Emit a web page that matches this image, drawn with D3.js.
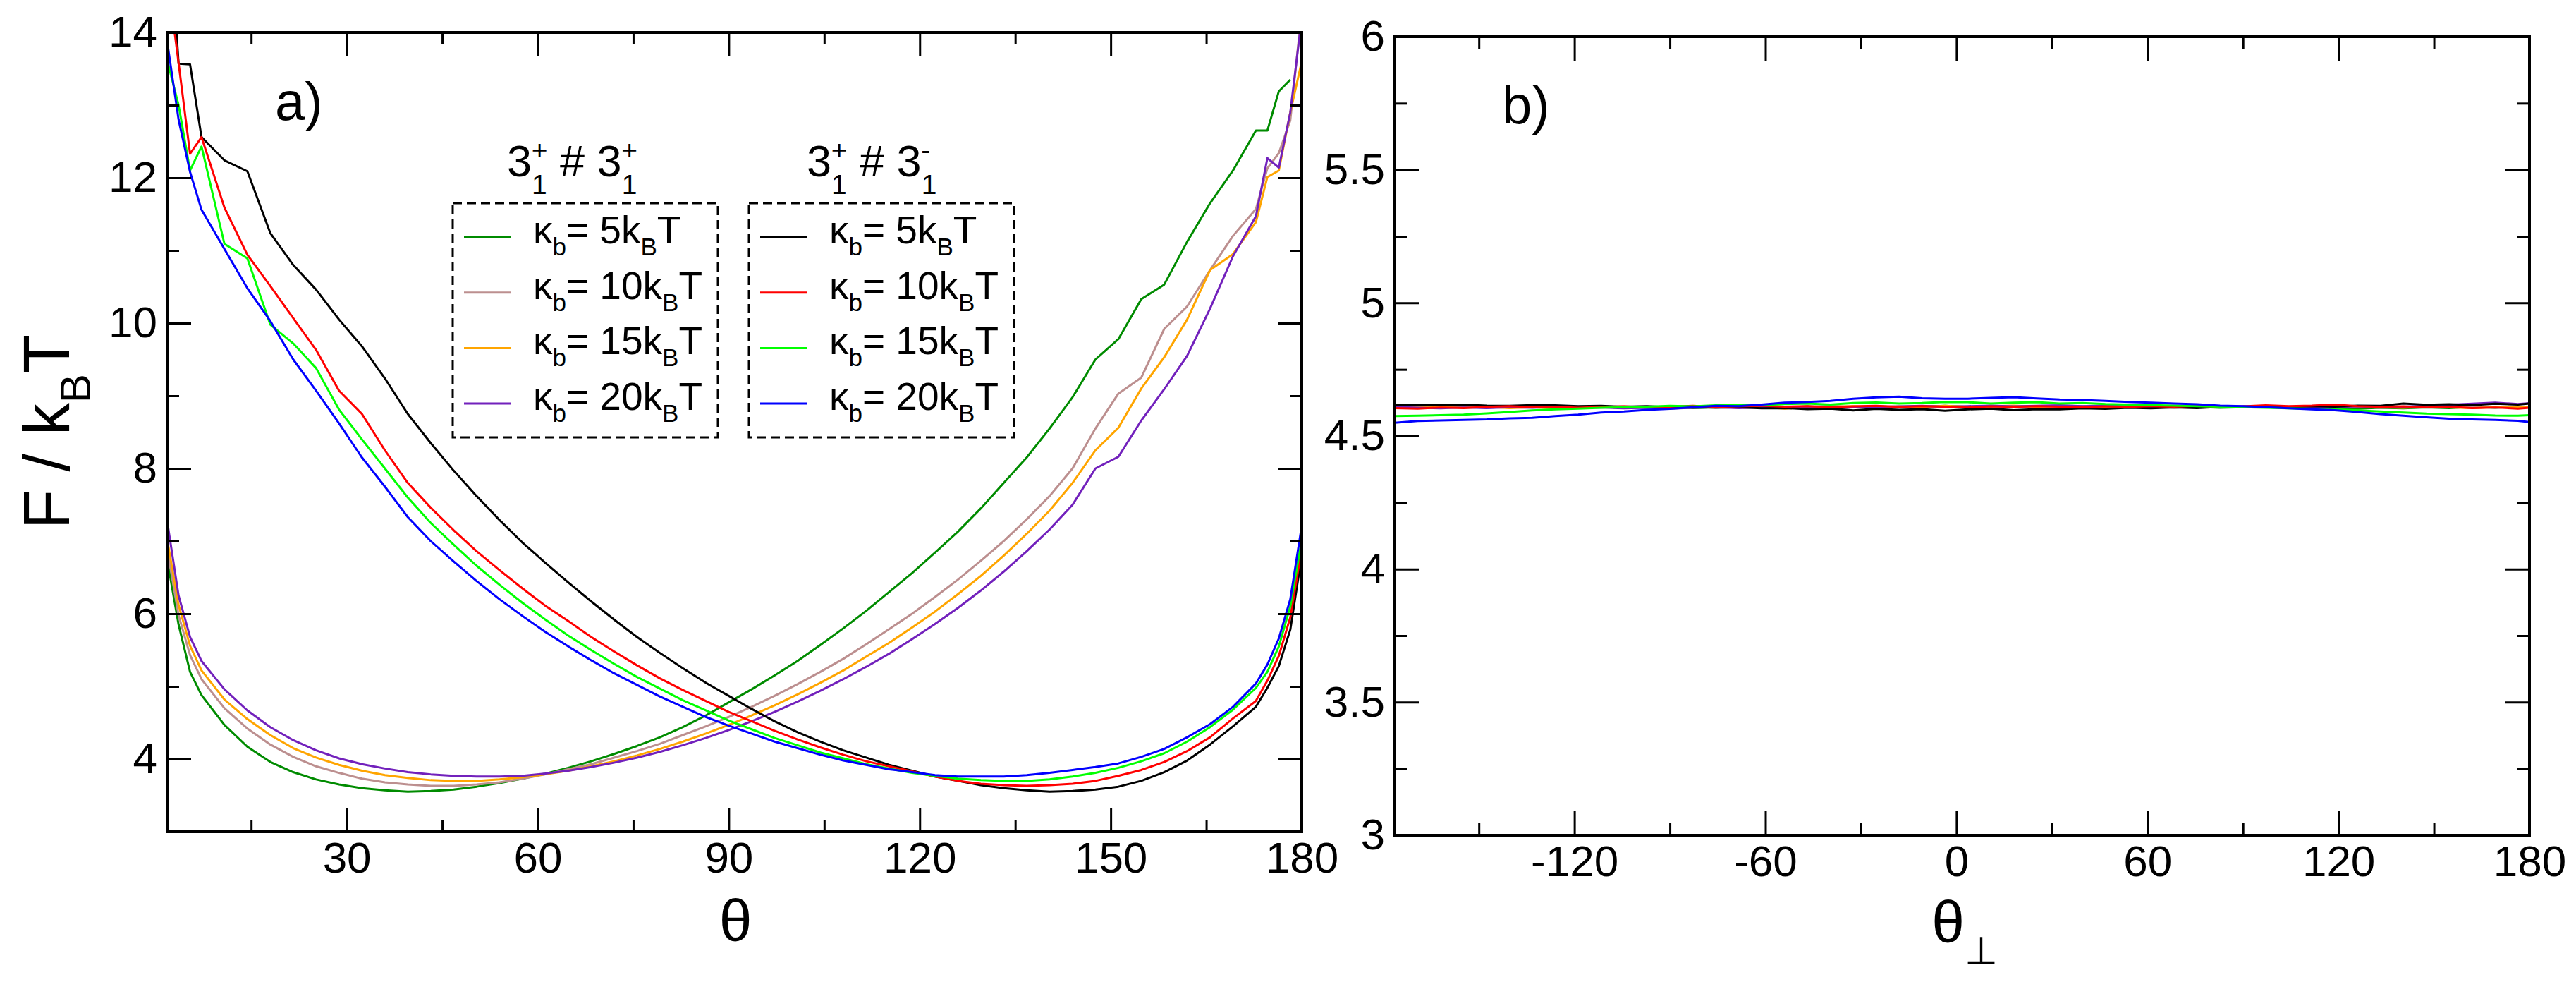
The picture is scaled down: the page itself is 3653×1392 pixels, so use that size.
<!DOCTYPE html>
<html><head><meta charset="utf-8">
<script src="https://cdn.jsdelivr.net/npm/d3@7"></script>
<style>body{margin:0;background:#fff}</style>
</head><body>
<svg id="c" width="3653" height="1392" xmlns="http://www.w3.org/2000/svg"></svg>
<script>
// ---------------- DATA ----------------
// Panel a) : theta (degrees)
const thetaA = [1.8,3.6,5.4,7.2,10.8,14.4,18,21.6,25.2,28.8,32.4,36,39.6,43.2,46.8,50.4,54,57.6,61.2,64.8,68.4,72,75.6,79.2,82.8,86.4,90,93.6,97.2,100.8,104.4,108,111.6,115.2,118.8,122.4,126,129.6,133.2,136.8,140.4,144,147.6,151.2,154.8,158.4,162,165.6,169.2,172.8,174.6,176.4,178.2,180];
// 3_1^+ # 3_1^+
const ppK5  = [6.75,5.85,5.2,4.88,4.47,4.17,3.96,3.82,3.72,3.65,3.6,3.57,3.55,3.56,3.58,3.62,3.67,3.73,3.8,3.88,3.97,4.07,4.18,4.3,4.44,4.6,4.78,4.96,5.15,5.35,5.57,5.8,6.04,6.3,6.56,6.84,7.13,7.45,7.8,8.15,8.55,8.98,9.5,9.78,10.33,10.53,11.12,11.65,12.1,12.65,12.65,13.19,13.35,null];
const ppK10 = [6.9,5.98,5.43,5.1,4.7,4.42,4.2,4.03,3.9,3.81,3.73,3.68,3.65,3.63,3.63,3.65,3.68,3.73,3.79,3.86,3.93,4.02,4.11,4.21,4.33,4.45,4.58,4.72,4.87,5.03,5.2,5.38,5.58,5.79,6.0,6.23,6.47,6.73,7.0,7.3,7.62,8.0,8.55,9.03,9.25,9.92,10.23,10.73,11.2,11.57,12.13,12.34,12.79,14.3];
const ppK15 = [7.03,6.12,5.56,5.22,4.82,4.55,4.33,4.15,4.02,3.92,3.84,3.78,3.74,3.71,3.7,3.7,3.72,3.75,3.79,3.84,3.9,3.97,4.05,4.14,4.24,4.35,4.47,4.6,4.74,4.89,5.05,5.22,5.41,5.6,5.81,6.03,6.27,6.52,6.8,7.1,7.42,7.8,8.25,8.56,9.1,9.53,10.05,10.73,10.95,11.39,12.01,12.1,12.9,13.6];
const ppK20 = [7.28,6.25,5.68,5.35,4.96,4.67,4.44,4.26,4.12,4.01,3.93,3.87,3.82,3.79,3.77,3.76,3.76,3.77,3.8,3.84,3.89,3.95,4.02,4.1,4.19,4.29,4.4,4.52,4.65,4.79,4.94,5.1,5.27,5.45,5.65,5.86,6.08,6.32,6.58,6.86,7.16,7.5,8.0,8.16,8.66,9.09,9.55,10.2,10.92,11.47,12.27,12.14,12.9,14.2];
// 3_1^+ # 3_1^-
const pmK5  = [16,13.57,13.56,12.56,12.24,12.09,11.24,10.8,10.46,10.05,9.68,9.24,8.75,8.35,7.97,7.62,7.29,6.98,6.7,6.43,6.17,5.92,5.68,5.46,5.25,5.05,4.87,4.69,4.52,4.37,4.24,4.12,4.02,3.92,3.84,3.76,3.7,3.64,3.6,3.57,3.55,3.56,3.58,3.62,3.7,3.82,3.98,4.2,4.45,4.72,4.98,5.28,5.78,6.8];
const pmK10 = [14.8,13.58,12.33,12.56,11.59,10.94,10.51,10.07,9.63,9.07,8.75,8.25,7.8,7.46,7.15,6.86,6.6,6.35,6.11,5.9,5.68,5.48,5.29,5.11,4.95,4.8,4.65,4.52,4.39,4.27,4.16,4.06,3.97,3.9,3.83,3.76,3.7,3.66,3.64,3.63,3.64,3.66,3.7,3.77,3.85,3.96,4.11,4.3,4.56,4.8,5.08,5.42,5.95,6.9];
const pmK15 = [13.62,13.0,12.1,12.43,11.09,10.89,9.98,9.72,9.38,8.81,8.4,8.0,7.6,7.25,6.95,6.66,6.4,6.15,5.92,5.7,5.5,5.31,5.13,4.97,4.81,4.67,4.53,4.41,4.29,4.19,4.09,4.01,3.93,3.87,3.81,3.77,3.73,3.71,3.7,3.7,3.72,3.76,3.81,3.88,3.97,4.08,4.24,4.44,4.68,4.98,5.2,5.55,6.1,7.02];
const pmK20 = [13.88,12.8,12.08,11.56,11.02,10.48,10.03,9.5,9.07,8.62,8.15,7.75,7.33,7.0,6.72,6.45,6.2,5.97,5.75,5.55,5.36,5.18,5.02,4.86,4.72,4.58,4.46,4.35,4.24,4.15,4.06,3.98,3.92,3.86,3.82,3.78,3.76,3.76,3.76,3.78,3.81,3.85,3.89,3.94,4.03,4.14,4.3,4.48,4.72,5.04,5.3,5.66,6.2,7.21];

// Panel b) : theta_perp (degrees)
const thetaB = [-176.4,-169.2,-162,-154.8,-147.6,-140.4,-133.2,-126,-118.8,-111.6,-104.4,-97.2,-90,-82.8,-75.6,-68.4,-61.2,-54,-46.8,-39.6,-32.4,-25.2,-18,-10.8,-3.6,3.6,10.8,18,25.2,32.4,39.6,46.8,54,61.2,68.4,75.6,82.8,90,97.2,104.4,111.6,118.8,126,133.2,140.4,147.6,154.8,162,169.2,176.4,180];
const bppK5  = [4.612,4.610,4.613,4.609,4.611,4.608,4.612,4.609,4.607,4.611, 4.608,4.606,4.609,4.605,4.607,4.610,4.606,4.608,4.611,4.607, 4.609,4.612,4.608,4.610,4.613,4.609,4.611,4.608,4.610,4.607, 4.609,4.612,4.608,4.610,4.607,4.609,4.606,4.608,4.611,4.607, 4.609,4.606,4.603,4.606,4.604,4.607,4.605,4.609,4.606,4.610, 4.608];
const bppK10 = [4.608,4.611,4.607,4.610,4.606,4.609,4.611,4.606,4.609,4.607, 4.611,4.608,4.605,4.609,4.607,4.611,4.608,4.606,4.610,4.613, 4.609,4.611,4.607,4.610,4.612,4.608,4.611,4.609,4.606,4.610, 4.612,4.608,4.611,4.609,4.606,4.610,4.612,4.608,4.611,4.609, 4.612,4.607,4.610,4.606,4.609,4.611,4.607,4.610,4.606,4.609, 4.607];
const bppK15 = [4.610,4.607,4.611,4.606,4.609,4.605,4.608,4.604,4.607,4.610, 4.606,4.609,4.605,4.608,4.610,4.606,4.609,4.603,4.607,4.610, 4.612,4.608,4.611,4.609,4.613,4.610,4.612,4.614,4.610,4.612, 4.609,4.611,4.608,4.610,4.613,4.609,4.611,4.607,4.610,4.608, 4.611,4.609,4.612,4.608,4.606,4.609,4.607,4.605,4.608,4.610, 4.609];
const bppK20 = [4.609,4.606,4.604,4.607,4.605,4.608,4.606,4.609,4.605,4.607, 4.604,4.606,4.603,4.606,4.608,4.605,4.607,4.610,4.606,4.604, 4.607,4.609,4.611,4.613,4.609,4.612,4.614,4.611,4.613,4.615, 4.612,4.614,4.611,4.609,4.612,4.610,4.608,4.611,4.609,4.607, 4.610,4.608,4.611,4.607,4.610,4.613,4.617,4.621,4.625,4.620, 4.623];
const bpmK5  = [4.617,4.615,4.616,4.618,4.614,4.613,4.616,4.615,4.612,4.613, 4.610,4.612,4.608,4.610,4.606,4.608,4.604,4.605,4.601,4.603, 4.596,4.602,4.598,4.601,4.595,4.600,4.603,4.597,4.601,4.600, 4.604,4.602,4.606,4.604,4.607,4.605,4.609,4.607,4.610,4.609, 4.612,4.610,4.614,4.613,4.622,4.617,4.619,4.616,4.621,4.618, 4.622];
const bpmK10 = [4.605,4.603,4.607,4.605,4.609,4.612,4.608,4.610,4.606,4.609, 4.611,4.607,4.610,4.613,4.609,4.611,4.614,4.610,4.612,4.608, 4.611,4.613,4.609,4.612,4.610,4.607,4.611,4.609,4.612,4.610, 4.608,4.611,4.609,4.612,4.610,4.613,4.609,4.611,4.615,4.612, 4.614,4.618,4.612,4.609,4.611,4.607,4.610,4.605,4.607,4.603, 4.606];
const bpmK15 = [4.575,4.576,4.578,4.580,4.585,4.590,4.596,4.600,4.603,4.606, 4.608,4.610,4.613,4.611,4.615,4.617,4.616,4.620,4.622,4.618, 4.624,4.626,4.622,4.624,4.628,4.627,4.622,4.625,4.627,4.622, 4.624,4.620,4.618,4.616,4.614,4.612,4.610,4.608,4.606,4.604, 4.602,4.600,4.596,4.592,4.588,4.584,4.582,4.580,4.577,4.576, 4.578];
const bpmK20 = [4.550,4.556,4.558,4.560,4.562,4.566,4.568,4.575,4.580,4.588, 4.592,4.598,4.602,4.608,4.613,4.612,4.618,4.625,4.628,4.632, 4.640,4.645,4.648,4.642,4.640,4.640,4.643,4.646,4.641,4.637, 4.635,4.632,4.628,4.625,4.622,4.619,4.614,4.612,4.608,4.604, 4.600,4.597,4.590,4.582,4.576,4.570,4.565,4.562,4.560,4.557, 4.552];

// Ticks / labels
const aXMajor = [30,60,90,120,150,180], aXMinor = [15,45,75,105,135,165];
const aYMajor = [4,6,8,10,12,14], aYMinor = [3,5,7,9,11,13];
const bXMajor = [-120,-60,0,60,120,180], bXMinor = [-150,-90,-30,30,90,150];
const bYMajor = [3,3.5,4,4.5,5,5.5,6], bYMinor = [3.25,3.75,4.25,4.75,5.25,5.75];
const kappaLabels = ["5","10","15","20"];
const legendSup = ["+","-"];

// ---------------- DRAW ----------------
const FONT = '"Liberation Sans", Arial, Helvetica, sans-serif';
const svg = d3.select("#c");
svg.append("rect").attr("width",3653).attr("height",1392).attr("fill","#fff");

const colPP = ["#008b00","#bc8f8f","#ffa500","#7221bc"];
const colPM = ["#000000","#ff0000","#00ff00","#0000ff"];

function richText(parent, x, y, parts, fs, opts) {
  opts = opts || {};
  const small = opts.small || fs*0.62;
  const subShift = opts.sub || fs*0.3;
  const supShift = opts.sup || fs*0.37;
  const t = parent.append("text").attr("x", x).attr("y", y)
    .attr("font-family", FONT).attr("font-size", fs).attr("fill","#000")
    .attr("text-anchor", opts.anchor || "start");
  if (opts.transform) t.attr("transform", opts.transform);
  let cur = 0;
  parts.forEach(p => {
    let target = p.sub ? subShift : (p.sup ? -supShift : 0);
    const ts = t.append("tspan").text(p.t).attr("font-size", (p.sub||p.sup) ? (p.fs || small) : fs);
    if (target !== cur) { ts.attr("dy", target - cur); cur = target; }
    if (p.dx) ts.attr("dx", p.dx);
  });
  return t;
}

function panel(cfg) {
  const x = d3.scaleLinear().domain(cfg.xd).range([cfg.x0, cfg.x1]);
  const y = d3.scaleLinear().domain(cfg.yd).range([cfg.y1, cfg.y0]);
  const id = "clip" + cfg.name;
  svg.append("clipPath").attr("id", id).append("rect")
    .attr("x", cfg.x0).attr("y", cfg.y0).attr("width", cfg.x1 - cfg.x0).attr("height", cfg.y1 - cfg.y0);
  const line = d3.line().defined(d => d[1] != null).x(d => x(d[0])).y(d => y(d[1]));
  const g = svg.append("g").attr("clip-path", `url(#${id})`);
  cfg.series.forEach(s => {
    g.append("path").attr("d", line(cfg.xs.map((t, i) => [t, s.v[i]])))
      .attr("fill", "none").attr("stroke", s.c).attr("stroke-width", 3).attr("stroke-linejoin", "round");
  });
  function ax(gen, sc, vals, size, fmt, tr) {
    const a = gen(sc).tickValues(vals).tickSize(-size).tickPadding(cfg.pad);
    a.tickFormat(fmt ? fmt : () => "");
    const gg = svg.append("g").attr("transform", tr).call(a);
    gg.select(".domain").remove();
    gg.selectAll("line").attr("stroke", "#000").attr("stroke-width", 3);
    gg.selectAll("text").attr("font-size", cfg.fs).attr("font-family", FONT).attr("fill", "#000");
    return gg;
  }
  const lab = d => String(d);
  ax(d3.axisBottom, x, cfg.xMajor, 34, lab, `translate(0,${cfg.y1})`);
  ax(d3.axisBottom, x, cfg.xMinor, 17, null, `translate(0,${cfg.y1})`);
  ax(d3.axisTop, x, cfg.xMajor, 34, null, `translate(0,${cfg.y0})`);
  ax(d3.axisTop, x, cfg.xMinor, 17, null, `translate(0,${cfg.y0})`);
  ax(d3.axisLeft, y, cfg.yMajor, 34, lab, `translate(${cfg.x0},0)`);
  ax(d3.axisLeft, y, cfg.yMinor, 17, null, `translate(${cfg.x0},0)`);
  ax(d3.axisRight, y, cfg.yMajor, 34, null, `translate(${cfg.x1},0)`);
  ax(d3.axisRight, y, cfg.yMinor, 17, null, `translate(${cfg.x1},0)`);
  svg.append("rect").attr("x", cfg.x0).attr("y", cfg.y0)
    .attr("width", cfg.x1 - cfg.x0).attr("height", cfg.y1 - cfg.y0)
    .attr("fill", "none").attr("stroke", "#000").attr("stroke-width", 4);
  return {x, y};
}

panel({
  name: "a", x0: 237, x1: 1846, y0: 46, y1: 1179, xd: [1.8, 180], yd: [3, 14],
  xs: thetaA, fs: 62, pad: 14,
  xMajor: aXMajor, xMinor: aXMinor, yMajor: aYMajor, yMinor: aYMinor,
  series: [
    {v: ppK5, c: colPP[0]}, {v: ppK10, c: colPP[1]}, {v: ppK15, c: colPP[2]}, {v: ppK20, c: colPP[3]},
    {v: pmK5, c: colPM[0]}, {v: pmK10, c: colPM[1]}, {v: pmK15, c: colPM[2]}, {v: pmK20, c: colPM[3]}
  ]
});
panel({
  name: "b", x0: 1978, x1: 3587, y0: 52, y1: 1184, xd: [-176.4, 180], yd: [3, 6],
  xs: thetaB, fs: 62, pad: 14,
  xMajor: bXMajor, xMinor: bXMinor, yMajor: bYMajor, yMinor: bYMinor,
  series: [
    {v: bppK5, c: colPP[0]}, {v: bppK10, c: colPP[1]}, {v: bppK15, c: colPP[2]}, {v: bppK20, c: colPP[3]},
    {v: bpmK5, c: colPM[0]}, {v: bpmK10, c: colPM[1]}, {v: bpmK15, c: colPM[2]}, {v: bpmK20, c: colPM[3]}
  ]
});

// Axis titles
richText(svg, 0, 0, [{t: "F / k"}, {t: "B", sub: true}, {t: "T"}], 92,
  {anchor: "middle", transform: "translate(98,612) rotate(-90)", small: 62, sub: 30});
svg.append("text").attr("x", 1043).attr("y", 1334).attr("text-anchor", "middle")
  .attr("font-family", FONT).attr("font-size", 84).text("θ");
richText(svg, 2786, 1336, [{t: "θ"}, {t: "⊥", sub: true}], 84, {anchor: "middle", small: 54, sub: 30});

// Panel labels
svg.append("text").attr("x", 390).attr("y", 170).attr("font-family", FONT).attr("font-size", 76).text("a)");
svg.append("text").attr("x", 2130).attr("y", 175).attr("font-family", FONT).attr("font-size", 76).text("b)");

// Legends
const legends = [
  {bx: 642, colors: colPP, sup: legendSup[0], tx: 719},
  {bx: 1062, colors: colPM, sup: legendSup[1], tx: 1144}
];
legends.forEach(L => {
  const g = svg.append("g");
  g.append("rect").attr("x", L.bx).attr("y", 288).attr("width", 376).attr("height", 332)
    .attr("fill", "#fff").attr("stroke", "#000").attr("stroke-width", 3).attr("stroke-dasharray", "13,7");
  // title 3_1^+ # 3_1^(+/-)
  richText(g, L.tx, 250, [
    {t: "3"}, {t: "1", sub: true}, {t: "+", sup: true, dx: -22},
    {t: " # 3"}, {t: "1", sub: true}, {t: L.sup, sup: true, dx: -22}
  ], 63, {small: 39, sub: 25, sup: 24});
  kappaLabels.forEach((k, i) => {
    const ly = 336 + i * 78.7;
    g.append("line").attr("x1", L.bx + 16).attr("x2", L.bx + 82).attr("y1", ly).attr("y2", ly)
      .attr("stroke", L.colors[i]).attr("stroke-width", 3);
    richText(g, L.bx + 114, ly + 9, [
      {t: "κ"}, {t: "b", sub: true}, {t: "= " + k + "k"}, {t: "B", sub: true}, {t: "T"}
    ], 55, {small: 35, sub: 17});
  });
});
</script>
</body></html>
